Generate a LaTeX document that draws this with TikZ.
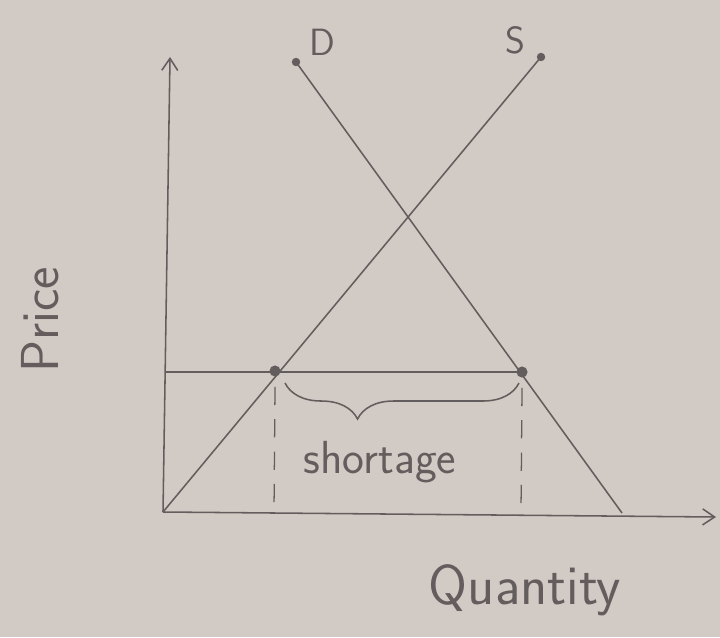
\documentclass[tikz,border=0pt]{standalone}
\usepackage{xcolor}
\usepackage{tikz}
\usetikzlibrary{arrows.meta,positioning,decorations.pathreplacing}
\definecolor{paper}{RGB}{210,202,197}
\definecolor{pencil}{RGB}{100,93,93}

\begin{document}
\begin{tikzpicture}[x=0.025cm, y=-0.025cm,
  ax/.style={-{Straight Barb[length=3mm, width=4mm]}, pencil, line width=1.1pt},
  curve/.style={pencil, line width=1.1pt},
  dimline/.style={pencil, line width=0.9pt, dash pattern=on 13pt off 10pt},
  brc/.style={decorate, decoration={brace, mirror, amplitude=0.9cm, aspect=0.31}, pencil, line width=1.1pt},
  hand/.style={pencil, font=\sffamily\fontsize{#1}{#1}\selectfont},
  hand/.default=30]
\fill[paper] (0,0) rectangle (720,637);
\useasboundingbox (0,0) rectangle (720,637);
% ---- axes ----
\coordinate (O) at (163,512);
\coordinate (ytop) at (170,57);
\coordinate (xend) at (716,517);
\draw[ax] (O) -- (ytop);
\draw[ax] (O) -- (xend);
% ---- demand and supply ----
\coordinate (d1) at (296,62);
\coordinate (d2) at (622,513);
\coordinate (s2) at (541,57);
\draw[curve] (d1) -- (d2);
\draw[curve] (O) -- (s2);
\fill[pencil] (d1) circle (3pt);
\fill[pencil] (s2) circle (3pt);
\node[hand=27] (dlab) at (322,42) {D};
\node[hand=27] (slab) at (515,40) {S};
% ---- price ceiling ----
\coordinate (pl) at (165,372);
\coordinate (pr) at (527,372);
\draw[curve] (pl) -- (pr);
\node[circle, fill=pencil, inner sep=2.8pt] (qs) at (275,371) {};
\node[circle, fill=pencil, inner sep=2.8pt] (qd) at (522,372) {};
\coordinate (qs0) at (274,512);
\coordinate (qd0) at (521,512);
\draw[dimline] (qs.south) ++(0,10) -- (qs0);
\draw[dimline] (qd.south) ++(0,10) -- (qd0);
\draw[brc] (285,383) -- (519,383);
\node[hand=33] (short) at (380,462) {shortage};
% ---- axis labels ----
\node[hand=38, rotate=90] (price) at (40,320) {Price};
\node[hand=40] (qty) at (525,590) {Quantity};
\end{tikzpicture}
\end{document}
